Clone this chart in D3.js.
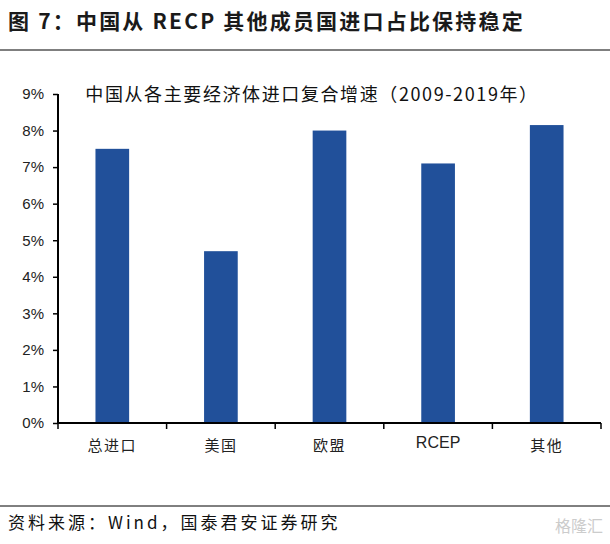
<!DOCTYPE html>
<html>
<head>
<meta charset="utf-8">
<script src="https://cdn.jsdelivr.net/npm/d3@7"></script>
<style>
  body { margin: 0; background: #fff; }
</style>
</head>
<body>
<script>
// data
const categories = ["总进口", "美国", "欧盟", "RCEP", "其他"];
const growth = [7.5, 4.7, 8.0, 7.1, 8.15];
const yTicks = [0, 1, 2, 3, 4, 5, 6, 7, 8, 9];

const width = 610, height = 544;
const cjk = "'Noto Sans CJK SC', sans-serif";

const svg = d3.select("body").append("svg")
  .attr("width", width)
  .attr("height", height);

// header
svg.append("text")
  .attr("x", 8).attr("y", 29)
  .attr("font-family", cjk)
  .attr("font-weight", "bold")
  .attr("font-size", 21)
  .attr("letter-spacing", 2.2)
  .attr("fill", "#1a1a1a")
  .text("图 7：中国从 RECP 其他成员国进口占比保持稳定");

svg.append("line")
  .attr("x1", 0).attr("x2", width)
  .attr("y1", 50).attr("y2", 50)
  .attr("stroke", "#000").attr("stroke-width", 1.2);

// scales
const x = d3.scaleBand()
  .domain(categories)
  .range([58, 601])
  .paddingInner(0.69)
  .paddingOuter(0.345);

const y = d3.scaleLinear()
  .domain([0, 9])
  .range([423, 94]);

// bars
svg.append("g").selectAll("rect")
  .data(growth)
  .enter()
  .append("rect")
  .attr("x", (d, i) => x(categories[i]))
  .attr("y", d => y(d))
  .attr("width", x.bandwidth())
  .attr("height", d => y(0) - y(d))
  .attr("fill", "#21509A");

// y axis
const yAxis = d3.axisLeft(y)
  .tickValues(yTicks)
  .tickFormat(d => d + "%")
  .tickSize(5)
  .tickPadding(9);

const gy = svg.append("g")
  .attr("transform", "translate(58,0)")
  .call(yAxis);
gy.select(".domain").attr("stroke-width", 2).attr("d", "M0,94V423");
gy.selectAll(".tick line").attr("stroke-width", 1.5);
gy.selectAll("text")
  .attr("font-family", "'Liberation Sans Narrow', 'Liberation Sans', sans-serif")
  .attr("font-size", 15)
  .attr("fill", "#222");

// x axis: ticks at band boundaries
const gx = svg.append("g")
  .attr("transform", "translate(0,423)");
gx.append("line")
  .attr("x1", 58).attr("x2", 601)
  .attr("stroke", "#000").attr("stroke-width", 2);
const bounds = categories.map(c => x(c) - x.step() * x.paddingInner() / 2).concat([601]);
gx.selectAll(".bt")
  .data(bounds)
  .enter()
  .append("line")
  .attr("x1", d => d).attr("x2", d => d)
  .attr("y1", 0).attr("y2", 6)
  .attr("stroke", "#000").attr("stroke-width", 1.5);
gx.selectAll(".lbl")
  .data(categories)
  .enter()
  .append("text")
  .attr("x", d => x(d) + x.bandwidth() / 2)
  .attr("y", 28)
  .attr("text-anchor", "middle")
  .attr("font-family", d => d === "RCEP" ? "'Liberation Sans Narrow', sans-serif" : cjk)
  .attr("font-size", d => d === "RCEP" ? 16 : 15)
  .attr("letter-spacing", d => d === "RCEP" ? 0 : 1.5)
  .attr("dy", d => d === "RCEP" ? -3 : 0)
  .attr("fill", "#222")
  .text(d => d);

// chart title
svg.append("text")
  .attr("x", 312).attr("y", 101)
  .attr("text-anchor", "middle")
  .attr("font-family", cjk)
  .attr("font-size", 18)
  .attr("letter-spacing", 1.6)
  .attr("fill", "#111")
  .text("中国从各主要经济体进口复合增速（2009-2019年）");

// footer
svg.append("line")
  .attr("x1", 0).attr("x2", width)
  .attr("y1", 506).attr("y2", 506)
  .attr("stroke", "#000").attr("stroke-width", 1);

svg.append("text")
  .attr("x", 8).attr("y", 529)
  .attr("font-family", cjk)
  .attr("font-size", 17)
  .attr("letter-spacing", 3)
  .attr("fill", "#111")
  .text("资料来源：Wind，国泰君安证券研究");

svg.append("text")
  .attr("x", 603).attr("y", 532)
  .attr("text-anchor", "end")
  .attr("font-family", cjk)
  .attr("font-size", 16)
  .attr("fill", "#ccc")
  .text("格隆汇");
</script>
</body>
</html>
